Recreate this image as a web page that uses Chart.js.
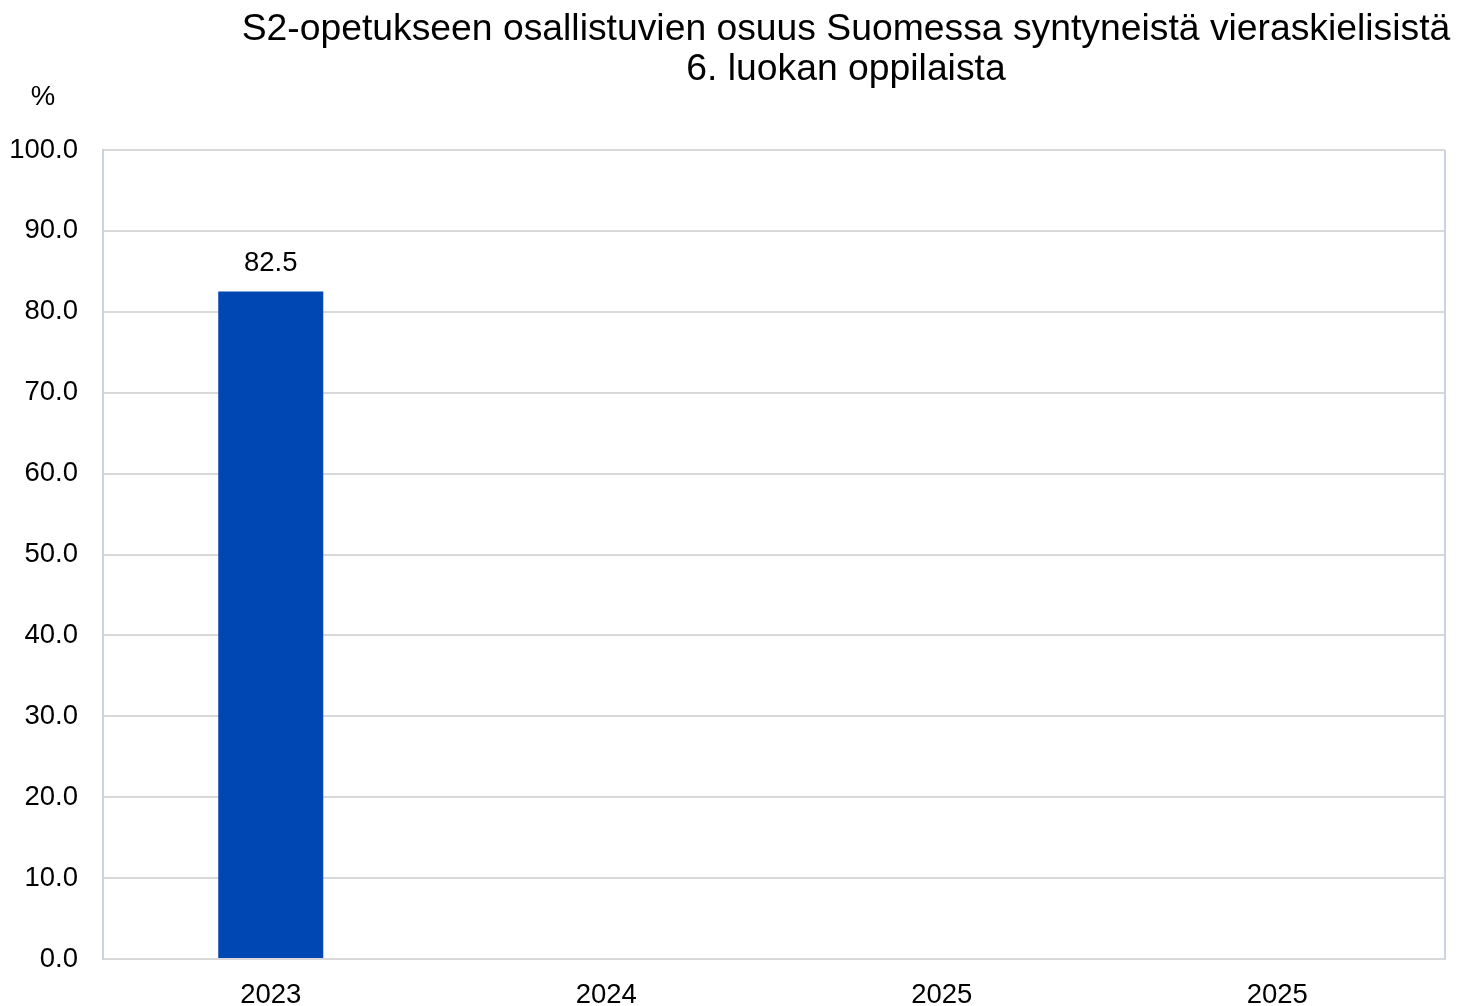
<!DOCTYPE html>
<html>
<head>
<meta charset="utf-8">
<script src="https://cdn.jsdelivr.net/npm/chart.js@4"></script>
<style>
  html, body { margin: 0; padding: 0; background: #fff; }
  #wrap { width: 1457px; height: 1006px; }
</style>
</head>
<body>
<div id="wrap"><canvas id="chart"></canvas></div>
<script>
// DATA
const categories = ["2023", "2024", "2025", "2025"];
const shareValues = [82.5, null, null, null];
const titleLines = ["S2-opetukseen osallistuvien osuus Suomessa syntyneistä vieraskielisistä", "6. luokan oppilaista"];
const unitLabel = "%";

const FONT = "'Liberation Sans', Arial, sans-serif";

// title, unit label, right border and value labels
const decorPlugin = {
  id: "decor",
  afterDraw(chart) {
    const ctx = chart.ctx;
    const area = chart.chartArea;
    ctx.save();

    // right border of plot
    ctx.strokeStyle = "#c8d4e0";
    ctx.lineWidth = 2;
    ctx.beginPath();
    ctx.moveTo(area.right, area.top);
    ctx.lineTo(area.right, area.bottom);
    ctx.stroke();

    ctx.fillStyle = "#000";
    ctx.textAlign = "center";
    ctx.textBaseline = "middle";
    ctx.font = "37.3px " + FONT;
    ctx.fillText(titleLines[0], 846, 30);
    ctx.fillText(titleLines[1], 846, 70);

    ctx.font = "27.5px " + FONT;
    ctx.fillText(unitLabel, 43, 97);

    // value labels above bars
    const meta = chart.getDatasetMeta(0);
    meta.data.forEach(function(bar, i) {
      const v = shareValues[i];
      if (v === null) return;
      ctx.textBaseline = "alphabetic";
      ctx.fillText(v.toFixed(1), bar.x, bar.y - 21);
    });
    ctx.restore();
  }
};

new Chart(document.getElementById("chart"), {
  type: "bar",
  data: {
    labels: categories,
    datasets: [{
      label: "Osuus",
      data: shareValues,
      backgroundColor: "#0047b3",
      barPercentage: 0.313,
      categoryPercentage: 1.0
    }]
  },
  options: {
    responsive: true,
    maintainAspectRatio: false,
    animation: false,
    layout: {
      padding: { top: 150, right: 12, left: 0, bottom: 0 }
    },
    plugins: {
      legend: { display: false },
      tooltip: { enabled: false }
    },
    scales: {
      x: {
        grid: { display: false, drawTicks: false },
        border: { display: true, color: "#d9d9d9", width: 2 },
        ticks: {
          color: "#000",
          padding: 20,
          font: { size: 27.5, family: FONT }
        },
        afterFit(scale) { scale.height = 47; }
      },
      y: {
        min: 0,
        max: 100,
        grid: { color: "#d9d9d9", lineWidth: 2, drawTicks: false },
        border: { display: true, color: "#c8d4e0", width: 2 },
        ticks: {
          stepSize: 10,
          color: "#000",
          padding: 25,
          font: { size: 27.5, family: FONT },
          callback: function(v) { return Number(v).toFixed(1); }
        },
        afterFit(scale) { scale.width = 103; }
      }
    }
  },
  plugins: [decorPlugin]
});
</script>
</body>
</html>
